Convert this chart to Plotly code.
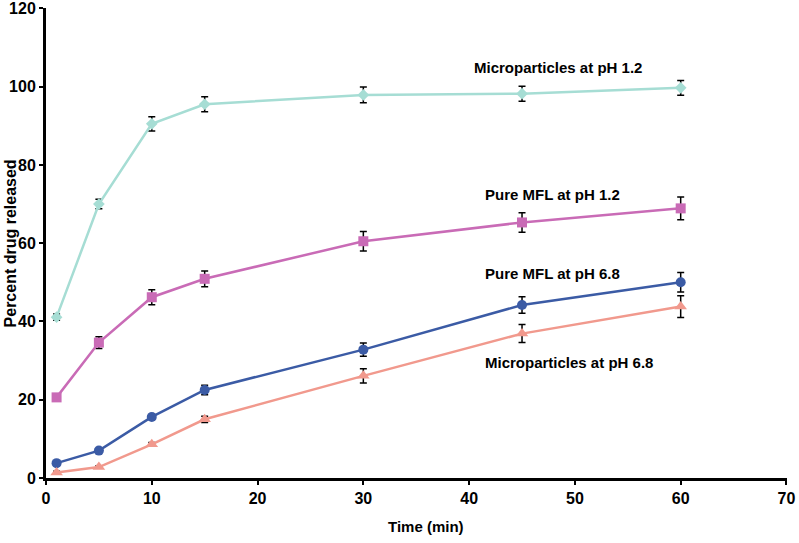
import plotly.graph_objects as go

time_min = [1, 5, 10, 15, 30, 45, 60]

micro_ph12 = [41.1, 70.0, 90.5, 95.5, 97.9, 98.2, 99.7]
micro_ph12_err = [0.8, 1.2, 1.8, 1.9, 2.0, 1.9, 1.9]

pure_ph12 = [20.6, 34.6, 46.2, 50.9, 60.5, 65.3, 68.9]
pure_ph12_err = [0.5, 1.5, 1.9, 2.0, 2.5, 2.5, 2.9]

pure_ph68 = [3.8, 7.0, 15.6, 22.5, 32.8, 44.2, 50.0]
pure_ph68_err = [0.5, 0.5, 0.6, 1.2, 1.7, 2.1, 2.5]

micro_ph68 = [1.4, 2.8, 8.6, 15.0, 26.1, 36.9, 43.8]
micro_ph68_err = [0.3, 0.3, 0.5, 0.8, 1.8, 2.3, 2.8]

series_names = ["Microparticles at pH 1.2", "Pure MFL at pH 1.2",
                "Pure MFL at pH 6.8", "Microparticles at pH 6.8"]
label_y = [105, 72.4, 52.2, 29.4]
label_x = [40.3, 41.3, 41.3, 41.3]

x_ticks = [0, 10, 20, 30, 40, 50, 60, 70]
y_ticks = [0, 20, 40, 60, 80, 100, 120]

FONT = "Liberation Sans, Arial, sans-serif"

styles = [
    dict(color="#A6DDD4", symbol="diamond", size=9),
    dict(color="#C96BB6", symbol="square", size=10),
    dict(color="#3B5BA5", symbol="circle", size=10),
    dict(color="#F1998D", symbol="triangle-up", size=11),
]
data = [(micro_ph12, micro_ph12_err), (pure_ph12, pure_ph12_err),
        (pure_ph68, pure_ph68_err), (micro_ph68, micro_ph68_err)]

fig = go.Figure()
for name, (vals, errs), st in zip(series_names, data, styles):
    fig.add_trace(go.Scatter(
        x=time_min, y=vals, name=name, mode="lines+markers",
        line=dict(color=st["color"], width=2.5),
        marker=dict(color=st["color"], symbol=st["symbol"], size=st["size"]),
        error_y=dict(type="data", array=errs, visible=True,
                     color="black", thickness=1.5, width=3.5),
        showlegend=False,
    ))

for name, lx, ly in zip(series_names, label_x, label_y):
    fig.add_annotation(x=lx, y=ly, text=name, showarrow=False,
                       xanchor="left", yanchor="middle",
                       font=dict(family=FONT, size=15, color="black", weight="bold"))

fig.add_annotation(xref="paper", yref="paper", x=-0.048, y=0.5,
                   text="Percent drug released", textangle=-90, showarrow=False,
                   xanchor="center", yanchor="middle",
                   font=dict(family=FONT, size=16, color="black", weight="bold"))
fig.add_annotation(xref="paper", yref="paper", x=0.513, y=-0.104,
                   text="Time (min)", showarrow=False,
                   xanchor="center", yanchor="middle",
                   font=dict(family=FONT, size=15, color="black", weight="bold"))

fig.update_xaxes(range=[0, 70.05], tickvals=x_ticks, ticktext=[str(v) for v in x_ticks],
                 showline=True, linecolor="black", linewidth=3,
                 ticks="outside", ticklen=4, tickwidth=2, tickcolor="black",
                 showgrid=False, zeroline=False, automargin=False,
                 ticklabeloverflow="allow",
                 tickfont=dict(family=FONT, size=16, color="black", weight="bold"))
fig.update_yaxes(range=[0, 120.1], tickvals=y_ticks, ticktext=[str(v) for v in y_ticks],
                 showline=True, linecolor="black", linewidth=3,
                 ticks="outside", ticklen=4, tickwidth=2, tickcolor="black",
                 showgrid=False, zeroline=False, automargin=False,
                 ticklabeloverflow="allow",
                 tickfont=dict(family=FONT, size=16, color="black", weight="bold"))

fig.update_layout(width=799, height=543,
                  margin=dict(l=46, r=12, t=8, b=65, pad=0),
                  plot_bgcolor="white", paper_bgcolor="white")

fig.write_html("out.html",
               config={"displayModeBar": False},
               post_script="document.body.style.margin='0';document.body.style.overflow='hidden';")
